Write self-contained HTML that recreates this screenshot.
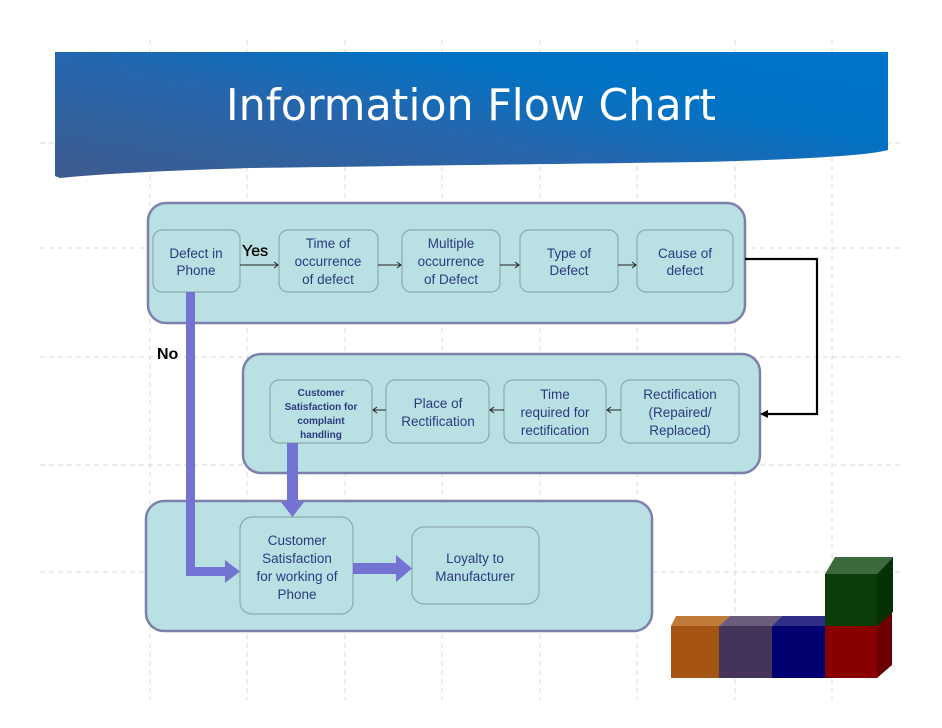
<!DOCTYPE html>
<html><head><style>body{margin:0;background:#fff}svg{display:block}</style></head><body>
<svg width="942" height="728" viewBox="0 0 942 728" xmlns="http://www.w3.org/2000/svg" font-family="Liberation Sans, sans-serif">
<defs>
<linearGradient id="bg" x1="0" y1="1" x2="1" y2="0.2">
<stop offset="0" stop-color="#3d5b8e"/><stop offset="0.45" stop-color="#2766ac"/><stop offset="0.75" stop-color="#0272c4"/><stop offset="1" stop-color="#0074c8"/></linearGradient>
</defs>
<g stroke="#d8d8d8" stroke-dasharray="5,4" stroke-width="1">
<line x1="150" y1="40" x2="150" y2="700"/><line x1="247" y1="40" x2="247" y2="700"/><line x1="345" y1="40" x2="345" y2="700"/><line x1="442" y1="40" x2="442" y2="700"/><line x1="540" y1="40" x2="540" y2="700"/><line x1="637" y1="40" x2="637" y2="700"/><line x1="735" y1="40" x2="735" y2="700"/><line x1="832" y1="40" x2="832" y2="700"/>
<line x1="40" y1="143" x2="900" y2="143"/><line x1="40" y1="248" x2="900" y2="248"/><line x1="40" y1="357" x2="900" y2="357"/><line x1="40" y1="465" x2="900" y2="465"/><line x1="40" y1="572" x2="900" y2="572"/>
</g>
<path d="M55 52 H888 V150 Q860 158 700 162 Q400 166 250 168 Q120 172 60 178 L55 176 Z" fill="url(#bg)"/>
<text x="471" y="120" text-anchor="middle" fill="#fff" font-size="44" font-family="DejaVu Sans, Liberation Sans, sans-serif" textLength="490" lengthAdjust="spacingAndGlyphs">Information Flow Chart</text>
<g fill="#b9e0e3" stroke="#7d80aa" stroke-width="2.5">
<rect x="148" y="203" width="597" height="120" rx="18"/>
<rect x="243" y="354" width="517" height="119" rx="18"/>
<rect x="146" y="501" width="506" height="130" rx="18"/>
</g>
<g fill="#b9e0e3" stroke="#8fa9ac" stroke-width="1.2">
<rect x="153" y="230" width="87" height="62" rx="9"/>
<rect x="279" y="230" width="99" height="62" rx="9"/>
<rect x="402" y="230" width="98" height="62" rx="9"/>
<rect x="520" y="230" width="98" height="62" rx="9"/>
<rect x="637" y="230" width="96" height="62" rx="9"/>
<rect x="270" y="380" width="102" height="63" rx="9"/>
<rect x="386" y="380" width="103" height="63" rx="9"/>
<rect x="504" y="380" width="102" height="63" rx="9"/>
<rect x="621" y="380" width="118" height="63" rx="9"/>
<rect x="240" y="517" width="113" height="97" rx="12"/>
<rect x="412" y="527" width="127" height="77" rx="12"/>
</g>
<g fill="#2b3a80" font-size="13.5" text-anchor="middle">
<text x="196" y="258">Defect in</text><text x="196" y="275">Phone</text>
<text x="328" y="248">Time of</text><text x="328" y="266">occurrence</text><text x="328" y="284">of defect</text>
<text x="451" y="248">Multiple</text><text x="451" y="266">occurrence</text><text x="451" y="284">of Defect</text>
<text x="569" y="258">Type of</text><text x="569" y="275">Defect</text>
<text x="685" y="258">Cause of</text><text x="685" y="275">defect</text>
<g font-size="10" font-weight="bold"><text x="321" y="396">Customer</text><text x="321" y="410">Satisfaction for</text><text x="321" y="424">complaint</text><text x="321" y="438">handling</text></g>
<text x="438" y="408">Place of</text><text x="438" y="426">Rectification</text>
<text x="555" y="399">Time</text><text x="555" y="417">required for</text><text x="555" y="435">rectification</text>
<text x="680" y="399">Rectification</text><text x="680" y="417">(Repaired/</text><text x="680" y="435">Replaced)</text>
<text x="297" y="545">Customer</text><text x="297" y="563">Satisfaction</text><text x="297" y="581">for working of</text><text x="297" y="599">Phone</text>
<text x="475" y="563">Loyalty to</text><text x="475" y="581">Manufacturer</text>
</g>
<g stroke="#222" stroke-width="1" fill="none">
<path d="M240 265 H278 M274 262 L278 265 L274 268"/>
<path d="M378 265 H401 M397 262 L401 265 L397 268"/>
<path d="M500 265 H519 M515 262 L519 265 L515 268"/>
<path d="M618 265 H636 M632 262 L636 265 L632 268"/>
<path d="M386 410 H373 M377 407 L373 410 L377 413"/>
<path d="M504 410 H490 M494 407 L490 410 L494 413"/>
<path d="M621 410 H607 M611 407 L607 410 L611 413"/>
</g>
<path d="M745 259 H817 V414 H764" stroke="#000" stroke-width="2.2" fill="none"/>
<path d="M760 414 L768 410 L768 418 Z" fill="#000"/>
<text x="242" y="256" font-size="16" fill="#000" stroke="#000" stroke-width="0.3">Yes</text>
<text x="157" y="359" font-size="16" font-weight="bold" fill="#000">No</text>
<g fill="#7373d3">
<rect x="186" y="292" width="9" height="284"/>
<rect x="186" y="567" width="40" height="9"/>
<path d="M225 560 L240 571.5 L225 583 Z"/>
<rect x="287" y="443" width="11" height="60"/>
<path d="M281 502 L304 502 L292.5 517 Z"/>
<rect x="353" y="563" width="45" height="11"/>
<path d="M396 555 L412 568.5 L396 582 Z"/>
</g>
<g>
<path d="M676 616 L730 616 L719 626 L671 626 Z" fill="#c07a3a"/>
<rect x="671" y="626" width="48" height="52" fill="#a65414"/>
<path d="M730 616 L782 616 L772 626 L719 626 Z" fill="#6a5c7a"/>
<rect x="719" y="626" width="53" height="52" fill="#44345a"/>
<path d="M782 616 L834 616 L825 626 L772 626 Z" fill="#2f2f8a"/>
<rect x="772" y="626" width="53" height="52" fill="#000070"/>
<rect x="825" y="626" width="52" height="52" fill="#8a0000"/>
<path d="M877 626 L892 612 L892 665 L877 678 Z" fill="#6a0000"/>
<path d="M835 557 L893 557 L877 574 L825 574 Z" fill="#3d6a3d"/>
<rect x="825" y="574" width="52" height="52" fill="#0a3d0a"/>
<path d="M877 574 L893 557 L893 612 L877 626 Z" fill="#073007"/>
</g>
</svg>
</body></html>
